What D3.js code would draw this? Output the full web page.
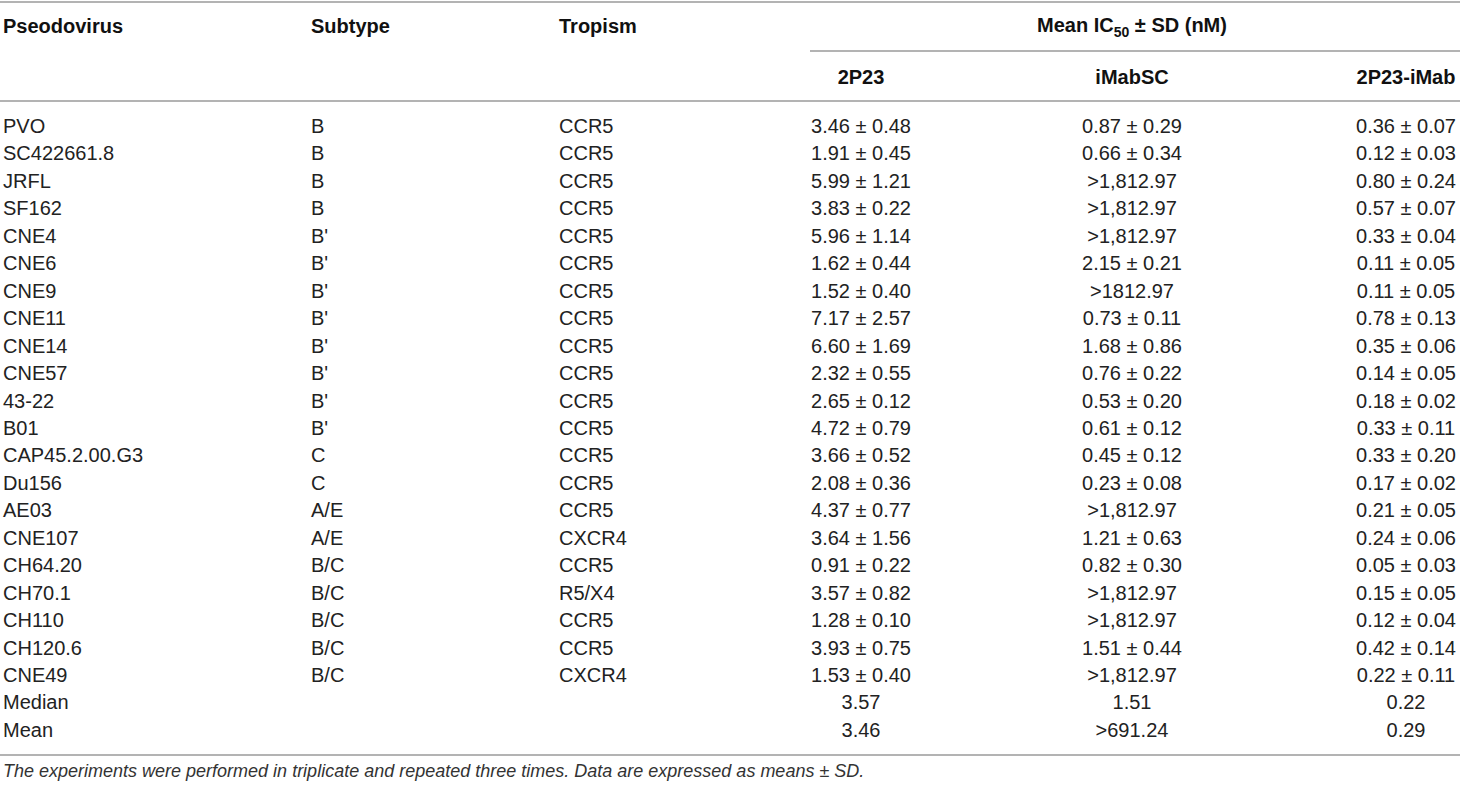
<!DOCTYPE html>
<html>
<head>
<meta charset="utf-8">
<script src="https://cdn.jsdelivr.net/npm/d3@7"></script>
<style>
  html, body { margin: 0; padding: 0; background: #fff; }
  svg { display: block; }
  .cell { font-family: "Liberation Sans", Arial, sans-serif; font-size: 20px; fill: #222; }
  .head { font-weight: bold; fill: #111; }
  .note { font-family: "Liberation Sans", Arial, sans-serif; font-size: 18px; font-style: italic; fill: #333; }
  .rule { stroke: #b3b3b3; stroke-width: 2; }
</style>
</head>
<body>
<div id="chart"></div>
<script>
// table data
const viruses = ['PVO', 'SC422661.8', 'JRFL', 'SF162', 'CNE4', 'CNE6', 'CNE9', 'CNE11', 'CNE14',
  'CNE57', '43-22', 'B01', 'CAP45.2.00.G3', 'Du156', 'AE03', 'CNE107', 'CH64.20', 'CH70.1',
  'CH110', 'CH120.6', 'CNE49', 'Median', 'Mean']
const subtypes = ['B', 'B', 'B', 'B', "B'", "B'", "B'", "B'", "B'", "B'", "B'", "B'", 'C', 'C',
  'A/E', 'A/E', 'B/C', 'B/C', 'B/C', 'B/C', 'B/C', '', '']
const tropisms = ['CCR5', 'CCR5', 'CCR5', 'CCR5', 'CCR5', 'CCR5', 'CCR5', 'CCR5', 'CCR5', 'CCR5',
  'CCR5', 'CCR5', 'CCR5', 'CCR5', 'CCR5', 'CXCR4', 'CCR5', 'R5/X4', 'CCR5', 'CCR5', 'CXCR4', '', '']
const ic2P23 = ['3.46 ± 0.48', '1.91 ± 0.45', '5.99 ± 1.21', '3.83 ± 0.22', '5.96 ± 1.14',
  '1.62 ± 0.44', '1.52 ± 0.40', '7.17 ± 2.57', '6.60 ± 1.69', '2.32 ± 0.55', '2.65 ± 0.12',
  '4.72 ± 0.79', '3.66 ± 0.52', '2.08 ± 0.36', '4.37 ± 0.77', '3.64 ± 1.56', '0.91 ± 0.22',
  '3.57 ± 0.82', '1.28 ± 0.10', '3.93 ± 0.75', '1.53 ± 0.40', '3.57', '3.46']
const icIMabSC = ['0.87 ± 0.29', '0.66 ± 0.34', '>1,812.97', '>1,812.97', '>1,812.97',
  '2.15 ± 0.21', '>1812.97', '0.73 ± 0.11', '1.68 ± 0.86', '0.76 ± 0.22', '0.53 ± 0.20',
  '0.61 ± 0.12', '0.45 ± 0.12', '0.23 ± 0.08', '>1,812.97', '1.21 ± 0.63', '0.82 ± 0.30',
  '>1,812.97', '>1,812.97', '1.51 ± 0.44', '>1,812.97', '1.51', '>691.24']
const ic2P23iMab = ['0.36 ± 0.07', '0.12 ± 0.03', '0.80 ± 0.24', '0.57 ± 0.07', '0.33 ± 0.04',
  '0.11 ± 0.05', '0.11 ± 0.05', '0.78 ± 0.13', '0.35 ± 0.06', '0.14 ± 0.05', '0.18 ± 0.02',
  '0.33 ± 0.11', '0.33 ± 0.20', '0.17 ± 0.02', '0.21 ± 0.05', '0.24 ± 0.06', '0.05 ± 0.03',
  '0.15 ± 0.05', '0.12 ± 0.04', '0.42 ± 0.14', '0.22 ± 0.11', '0.22', '0.29']

const columns = ['Pseodovirus', 'Subtype', 'Tropism', '2P23', 'iMabSC', '2P23-iMab']
const footnote = 'The experiments were performed in triplicate and repeated three times. Data are expressed as means ± SD.'

// dimension stuff
const width = 1460
const height = 786
const rowStep = 27.45
const firstBaseline = 133

const rows = viruses.map((v, i) => [v, subtypes[i], tropisms[i], ic2P23[i], icIMabSC[i], ic2P23iMab[i]])

// scales
const scaleX = d3.scaleOrdinal()
  .domain(columns)
  .range([3, 311, 559, 861, 1132, 1406])

const anchor = d3.scaleOrdinal()
  .domain(columns)
  .range(['start', 'start', 'start', 'middle', 'middle', 'middle'])

const scaleY = d3.scaleLinear()
  .domain([0, rows.length - 1])
  .range([firstBaseline, firstBaseline + rowStep * (rows.length - 1)])

const $svg = d3.select('#chart').append('svg')
  .attr('width', width)
  .attr('height', height)

// horizontal rules
const $rules = $svg.append('g')
const ruleData = [
  { x1: 0, x2: width, y: 2 },
  { x1: 810, x2: width, y: 51 },
  { x1: 0, x2: width, y: 101 },
  { x1: 0, x2: width, y: 755 }
]
$rules.selectAll('line')
  .data(ruleData)
  .enter()
  .append('line')
  .attr('class', 'rule')
  .attr('x1', d => d.x1)
  .attr('x2', d => d.x2)
  .attr('y1', d => d.y)
  .attr('y2', d => d.y)

// header
const $head = $svg.append('g')

$head.selectAll('text.top')
  .data(columns.slice(0, 3))
  .enter()
  .append('text')
  .attr('class', 'cell head top')
  .attr('x', d => scaleX(d))
  .attr('y', 33)
  .text(d => d)

const $mean = $head.append('text')
  .attr('class', 'cell head')
  .attr('x', scaleX('iMabSC'))
  .attr('y', 32)
  .attr('text-anchor', 'middle')
$mean.append('tspan').text('Mean IC')
$mean.append('tspan').attr('font-size', 14).attr('dy', 5).text('50')
$mean.append('tspan').attr('dy', -5).text(' ± SD (nM)')

$head.selectAll('text.sub')
  .data(columns.slice(3))
  .enter()
  .append('text')
  .attr('class', 'cell head sub')
  .attr('x', d => scaleX(d))
  .attr('y', 84)
  .attr('text-anchor', 'middle')
  .text(d => d)

// body rows
const $body = $svg.append('g')

const $rows = $body.selectAll('g.row')
  .data(rows)
  .enter()
  .append('g')
  .attr('class', 'row')
  .attr('transform', (d, i) => `translate(0, ${scaleY(i)})`)

$rows.selectAll('text')
  .data(d => d.map((v, j) => ({ col: columns[j], v })))
  .enter()
  .append('text')
  .attr('class', 'cell')
  .attr('x', d => scaleX(d.col))
  .attr('text-anchor', d => anchor(d.col))
  .text(d => d.v)

// footnote
$svg.append('text')
  .attr('class', 'note')
  .attr('x', 3)
  .attr('y', 777)
  .text(footnote)
</script>
</body>
</html>
